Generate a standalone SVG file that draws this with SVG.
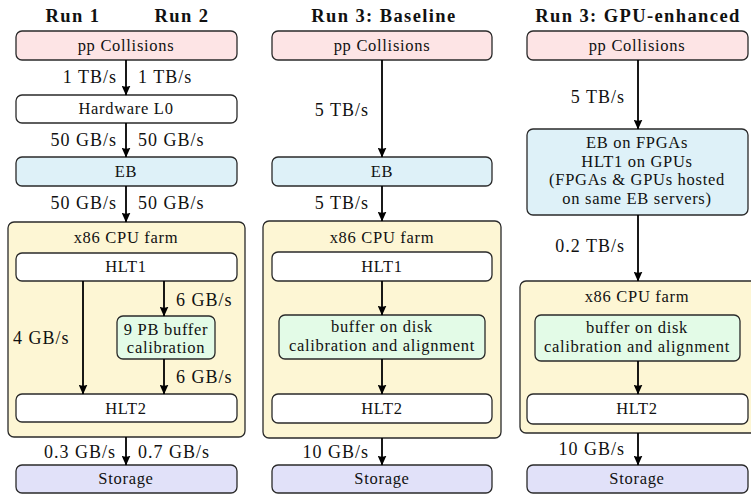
<svg xmlns="http://www.w3.org/2000/svg" width="751" height="494" viewBox="0 0 751 494">
  <style>
    .c { text-anchor: middle; }
    .r { text-anchor: end; }
    .box { stroke: #2a2a2a; stroke-width: 1.3; }
    .pp { fill: #fde4e5; }
    .white { fill: #ffffff; }
    .eb { fill: #def1f8; }
    .farm { fill: #fdf6d4; }
    .buf { fill: #e3fbe7; }
    .store { fill: #e1e1f9; }
    .arr { stroke: #000; stroke-width: 1.8; fill: none; marker-end: url(#tip); }
  </style>
  <defs>
    <marker id="tip" viewBox="0 0 10 9" refX="9.5" refY="4.5" markerWidth="10" markerHeight="9" markerUnits="userSpaceOnUse" orient="auto">
      <path d="M0,0 L10,4.5 L0,9 Q2.6,4.5 0,0 Z" fill="#000"/>
    </marker>
  </defs>

  <rect width="751" height="494" fill="#ffffff"/>

  <!-- column headings -->
  <g id="headings" font-family="Liberation Serif" font-weight="bold" font-size="18.5" letter-spacing="1.4" fill="#111" text-anchor="middle">
    <text x="73" y="22">Run 1</text>
    <text x="182" y="22">Run 2</text>
    <text x="384" y="22">Run 3: Baseline</text>
    <text x="638" y="22">Run 3: GPU-enhanced</text>
  </g>

  <g font-family="Liberation Serif" font-size="16.5" letter-spacing="0.7" fill="#111">
  <!-- Run 1 / Run 2 -->
  <g id="r12-pp"><rect class="box pp" x="16" y="31" width="221" height="29" rx="6"/><text class="c" x="126" y="51">pp Collisions</text></g>
  <g id="r12-l0"><rect class="box white" x="16" y="95" width="221" height="28" rx="6"/><text class="c" x="126" y="114">Hardware L0</text></g>
  <g id="r12-eb"><rect class="box eb" x="16" y="157" width="221" height="29" rx="6"/><text class="c" x="126" y="177">EB</text></g>
  <g id="r12-farm"><rect class="box farm" x="8" y="222" width="237" height="215" rx="6"/><text class="c" x="126" y="243">x86 CPU farm</text></g>
  <g id="r12-hlt1"><rect class="box white" x="16" y="253" width="221" height="28" rx="6"/><text class="c" x="126" y="272">HLT1</text></g>
  <g id="r12-buffer"><rect class="box buf" x="117" y="316" width="98" height="43" rx="6"/><text class="c" x="166" y="335">9 PB buffer</text><text class="c" x="166" y="353">calibration</text></g>
  <g id="r12-hlt2"><rect class="box white" x="16" y="394" width="221" height="28" rx="6"/><text class="c" x="126" y="414">HLT2</text></g>
  <g id="r12-storage"><rect class="box store" x="16" y="465" width="221" height="28" rx="6"/><text class="c" x="126" y="484">Storage</text></g>

  <!-- Run 3 baseline -->
  <g id="b-pp"><rect class="box pp" x="272" y="31" width="220" height="29" rx="6"/><text class="c" x="382" y="51">pp Collisions</text></g>
  <g id="b-eb"><rect class="box eb" x="272" y="157" width="220" height="29" rx="6"/><text class="c" x="382" y="177">EB</text></g>
  <g id="b-farm"><rect class="box farm" x="263" y="221" width="238" height="217" rx="6"/><text class="c" x="382" y="243">x86 CPU farm</text></g>
  <g id="b-hlt1"><rect class="box white" x="272" y="252" width="220" height="29" rx="6"/><text class="c" x="382" y="272">HLT1</text></g>
  <g id="b-buffer"><rect class="box buf" x="279" y="315" width="206" height="44" rx="6"/><text class="c" x="382" y="332">buffer on disk</text><text class="c" x="382" y="351">calibration and alignment</text></g>
  <g id="b-hlt2"><rect class="box white" x="272" y="394" width="220" height="29" rx="6"/><text class="c" x="382" y="414">HLT2</text></g>
  <g id="b-storage"><rect class="box store" x="272" y="465" width="220" height="28" rx="6"/><text class="c" x="382" y="484">Storage</text></g>

  <!-- Run 3 GPU-enhanced -->
  <g id="g-pp"><rect class="box pp" x="527" y="31" width="221" height="29" rx="6"/><text class="c" x="637" y="51">pp Collisions</text></g>
  <g id="g-eb"><rect class="box eb" x="527" y="129" width="221" height="86" rx="6"/>
    <text class="c" x="637" y="148">EB on FPGAs</text>
    <text class="c" x="637" y="167">HLT1 on GPUs</text>
    <text class="c" x="637" y="185">(FPGAs &amp; GPUs hosted</text>
    <text class="c" x="637" y="204">on same EB servers)</text>
  </g>
  <g id="g-farm"><rect class="box farm" x="520" y="281" width="240" height="152" rx="6"/><text class="c" x="637" y="302">x86 CPU farm</text></g>
  <g id="g-buffer"><rect class="box buf" x="535" y="315" width="205" height="46" rx="6"/><text class="c" x="637" y="333">buffer on disk</text><text class="c" x="637" y="352">calibration and alignment</text></g>
  <g id="g-hlt2"><rect class="box white" x="527" y="394" width="221" height="30" rx="6"/><text class="c" x="637" y="414">HLT2</text></g>
  <g id="g-storage"><rect class="box store" x="527" y="465" width="221" height="28" rx="6"/><text class="c" x="637" y="484">Storage</text></g>
  </g>

  <!-- connectors -->
  <g id="connectors">
    <line class="arr" x1="126" y1="60" x2="126" y2="95"/>
    <line class="arr" x1="126" y1="123" x2="126" y2="157"/>
    <line class="arr" x1="126" y1="186" x2="126" y2="222"/>
    <line class="arr" x1="83" y1="281" x2="83" y2="394"/>
    <line class="arr" x1="164" y1="281" x2="164" y2="316"/>
    <line class="arr" x1="164" y1="359" x2="164" y2="394"/>
    <line class="arr" x1="126" y1="437" x2="126" y2="465"/>

    <line class="arr" x1="382" y1="60" x2="382" y2="157"/>
    <line class="arr" x1="382" y1="186" x2="382" y2="221"/>
    <line class="arr" x1="382" y1="281" x2="382" y2="315"/>
    <line class="arr" x1="382" y1="359" x2="382" y2="394"/>
    <line class="arr" x1="382" y1="438" x2="382" y2="465"/>

    <line class="arr" x1="638" y1="60" x2="638" y2="129"/>
    <line class="arr" x1="638" y1="215" x2="638" y2="281"/>
    <line class="arr" x1="638" y1="361" x2="638" y2="394"/>
    <line class="arr" x1="638" y1="433" x2="638" y2="465"/>
  </g>

  <!-- data-rate labels -->
  <g id="rates" font-family="Liberation Serif" font-size="18" letter-spacing="1" fill="#111">
    <text class="r" x="117" y="83">1 TB/s</text>
    <text x="138" y="83">1 TB/s</text>
    <text class="r" x="117" y="146">50 GB/s</text>
    <text x="138" y="146">50 GB/s</text>
    <text class="r" x="117" y="209">50 GB/s</text>
    <text x="138" y="209">50 GB/s</text>
    <text x="176" y="306">6 GB/s</text>
    <text x="13" y="344">4 GB/s</text>
    <text x="176" y="383">6 GB/s</text>
    <text class="r" x="116" y="458">0.3 GB/s</text>
    <text x="138" y="458">0.7 GB/s</text>

    <text class="r" x="369" y="116">5 TB/s</text>
    <text class="r" x="369" y="209">5 TB/s</text>
    <text class="r" x="369" y="458">10 GB/s</text>

    <text class="r" x="625" y="103">5 TB/s</text>
    <text class="r" x="625" y="252">0.2 TB/s</text>
    <text class="r" x="625" y="455">10 GB/s</text>
  </g>
</svg>
